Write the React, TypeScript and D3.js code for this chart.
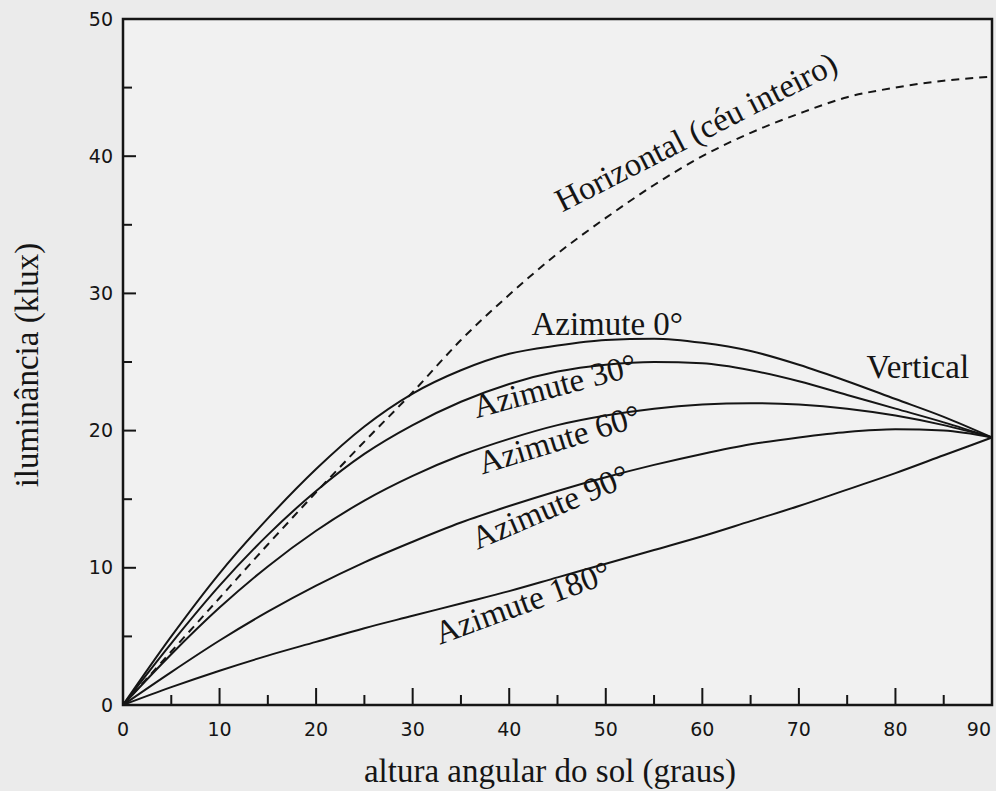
import React, { useEffect, useRef } from 'react';
import * as d3 from 'd3';

// altitude of the sun (degrees)
const altitude = [0, 5, 10, 15, 20, 25, 30, 35, 40, 45, 50, 55, 60, 65, 70, 75, 80, 85, 90];

// illuminance (klux)
const horizontal = [0, 3.9, 7.8, 11.7, 15.5, 19.2, 22.8, 26.6, 29.9, 32.9, 35.5, 37.9, 40.0, 41.7, 43.1, 44.3, 45.0, 45.5, 45.8];
const azimute0 = [0, 5.0, 9.6, 13.6, 17.2, 20.3, 22.7, 24.4, 25.6, 26.2, 26.6, 26.7, 26.4, 25.8, 24.8, 23.6, 22.3, 21.0, 19.5];
const azimute30 = [0, 4.5, 8.7, 12.4, 15.6, 18.3, 20.4, 22.1, 23.4, 24.3, 24.8, 25.0, 24.9, 24.4, 23.6, 22.6, 21.6, 20.6, 19.5];
const azimute60 = [0, 3.7, 7.1, 10.1, 12.7, 14.9, 16.7, 18.2, 19.4, 20.4, 21.1, 21.6, 21.9, 22.0, 21.9, 21.6, 21.1, 20.4, 19.5];
const azimute90 = [0, 2.4, 4.7, 6.8, 8.7, 10.4, 11.9, 13.3, 14.5, 15.6, 16.6, 17.5, 18.3, 19.0, 19.5, 19.9, 20.1, 20.0, 19.5];
const azimute180 = [0, 1.3, 2.5, 3.6, 4.6, 5.6, 6.5, 7.4, 8.3, 9.3, 10.3, 11.3, 12.3, 13.4, 14.5, 15.7, 16.9, 18.2, 19.5];

const xTicks = [0, 10, 20, 30, 40, 50, 60, 70, 80, 90];
const yTicks = [0, 10, 20, 30, 40, 50];

// curve labels: text, anchor in data units, rotation
const labels = [
  { text: 'Horizontal (céu inteiro)', x: 45.5, y: 35.9, angle: -27 },
  { text: 'Azimute 0°', x: 42.3, y: 27.0, angle: 0 },
  { text: 'Azimute 30°', x: 36.6, y: 20.9, angle: -15 },
  { text: 'Azimute 60°', x: 37.2, y: 16.8, angle: -17 },
  { text: 'Azimute 90°', x: 36.7, y: 11.3, angle: -23 },
  { text: 'Azimute 180°', x: 32.8, y: 4.4, angle: -20 },
  { text: 'Vertical', x: 77.0, y: 23.8, angle: 0 },
];

export default function App() {
  const svgRef = useRef<SVGSVGElement | null>(null);

  useEffect(() => {
    document.body.style.margin = '0';
    if (!svgRef.current) return;
    const svg = d3.select(svgRef.current);
    svg.selectAll('*').remove();

    const width = 996;
    const height = 791;
    const left = 123, right = 992, top = 19, bottom = 705;

    const x = d3.scaleLinear().domain([0, 90]).range([left, right]);
    const y = d3.scaleLinear().domain([0, 50]).range([bottom, top]);

    // paper background
    svg.append('rect').attr('width', width).attr('height', height).attr('fill', '#ebebeb');
    svg.append('rect')
      .attr('x', left).attr('y', top)
      .attr('width', right - left).attr('height', bottom - top)
      .attr('fill', '#f1f1f1');

    const ink = '#151515';
    const serif = '"Liberation Serif", "Times New Roman", serif';

    // frame
    svg.append('rect')
      .attr('x', left).attr('y', top)
      .attr('width', right - left).attr('height', bottom - top)
      .attr('fill', 'none')
      .attr('stroke', ink)
      .attr('stroke-width', 2.5);

    // x ticks (inward)
    const xMinor = d3.range(5, 90, 10);
    svg.append('g').selectAll('line')
      .data(xTicks)
      .join('line')
      .attr('x1', d => x(d)).attr('x2', d => x(d))
      .attr('y1', bottom).attr('y2', bottom - 17)
      .attr('stroke', ink).attr('stroke-width', 2);
    svg.append('g').selectAll('line')
      .data(xMinor)
      .join('line')
      .attr('x1', d => x(d)).attr('x2', d => x(d))
      .attr('y1', bottom).attr('y2', bottom - 10)
      .attr('stroke', ink).attr('stroke-width', 2);

    // y ticks (inward)
    const yMinor = d3.range(5, 50, 10);
    svg.append('g').selectAll('line')
      .data(yTicks)
      .join('line')
      .attr('x1', left).attr('x2', left + 13)
      .attr('y1', d => y(d)).attr('y2', d => y(d))
      .attr('stroke', ink).attr('stroke-width', 2);
    svg.append('g').selectAll('line')
      .data(yMinor)
      .join('line')
      .attr('x1', left).attr('x2', left + 9)
      .attr('y1', d => y(d)).attr('y2', d => y(d))
      .attr('stroke', ink).attr('stroke-width', 2);

    // tick labels
    svg.append('g')
      .attr('font-family', '"DejaVu Sans", sans-serif')
      .attr('font-size', 19)
      .attr('fill', ink)
      .selectAll('text')
      .data(xTicks)
      .join('text')
      .attr('x', d => (d === 90 ? x(d) - 1 : x(d)))
      .attr('y', 729)
      .attr('dy', '0.35em')
      .attr('text-anchor', d => (d === 90 ? 'end' : 'middle'))
      .text(d => d);

    svg.append('g')
      .attr('font-family', '"DejaVu Sans", sans-serif')
      .attr('font-size', 19)
      .attr('fill', ink)
      .selectAll('text')
      .data(yTicks)
      .join('text')
      .attr('x', 113)
      .attr('y', d => y(d))
      .attr('dy', '0.35em')
      .attr('text-anchor', 'end')
      .text(d => d);

    // curves
    const line = d3.line<number>()
      .curve(d3.curveMonotoneX)
      .x((_, i) => x(altitude[i]))
      .y(d => y(d));

    const solid = [azimute0, azimute30, azimute60, azimute90, azimute180];
    svg.append('g')
      .attr('fill', 'none')
      .attr('stroke', ink)
      .attr('stroke-width', 2)
      .selectAll('path')
      .data(solid)
      .join('path')
      .attr('d', d => line(d));

    svg.append('path')
      .attr('d', line(horizontal))
      .attr('fill', 'none')
      .attr('stroke', ink)
      .attr('stroke-width', 2)
      .attr('stroke-dasharray', '8,6');

    // curve labels
    svg.append('g')
      .attr('font-family', serif)
      .attr('font-size', 33)
      .attr('fill', ink)
      .selectAll('text')
      .data(labels)
      .join('text')
      .attr('transform', d => `translate(${x(d.x)},${y(d.y)}) rotate(${d.angle})`)
      .text(d => d.text);

    // axis titles
    svg.append('text')
      .attr('x', 550)
      .attr('y', 782)
      .attr('text-anchor', 'middle')
      .attr('font-family', serif)
      .attr('font-size', 33)
      .attr('fill', ink)
      .text('altura angular do sol (graus)');

    svg.append('text')
      .attr('transform', 'translate(38,365) rotate(-90)')
      .attr('text-anchor', 'middle')
      .attr('font-family', serif)
      .attr('font-size', 33)
      .attr('fill', ink)
      .text('iluminância (klux)');
  }, []);

  return <svg ref={svgRef} width={996} height={791} style={{ display: 'block' }} />;
}
